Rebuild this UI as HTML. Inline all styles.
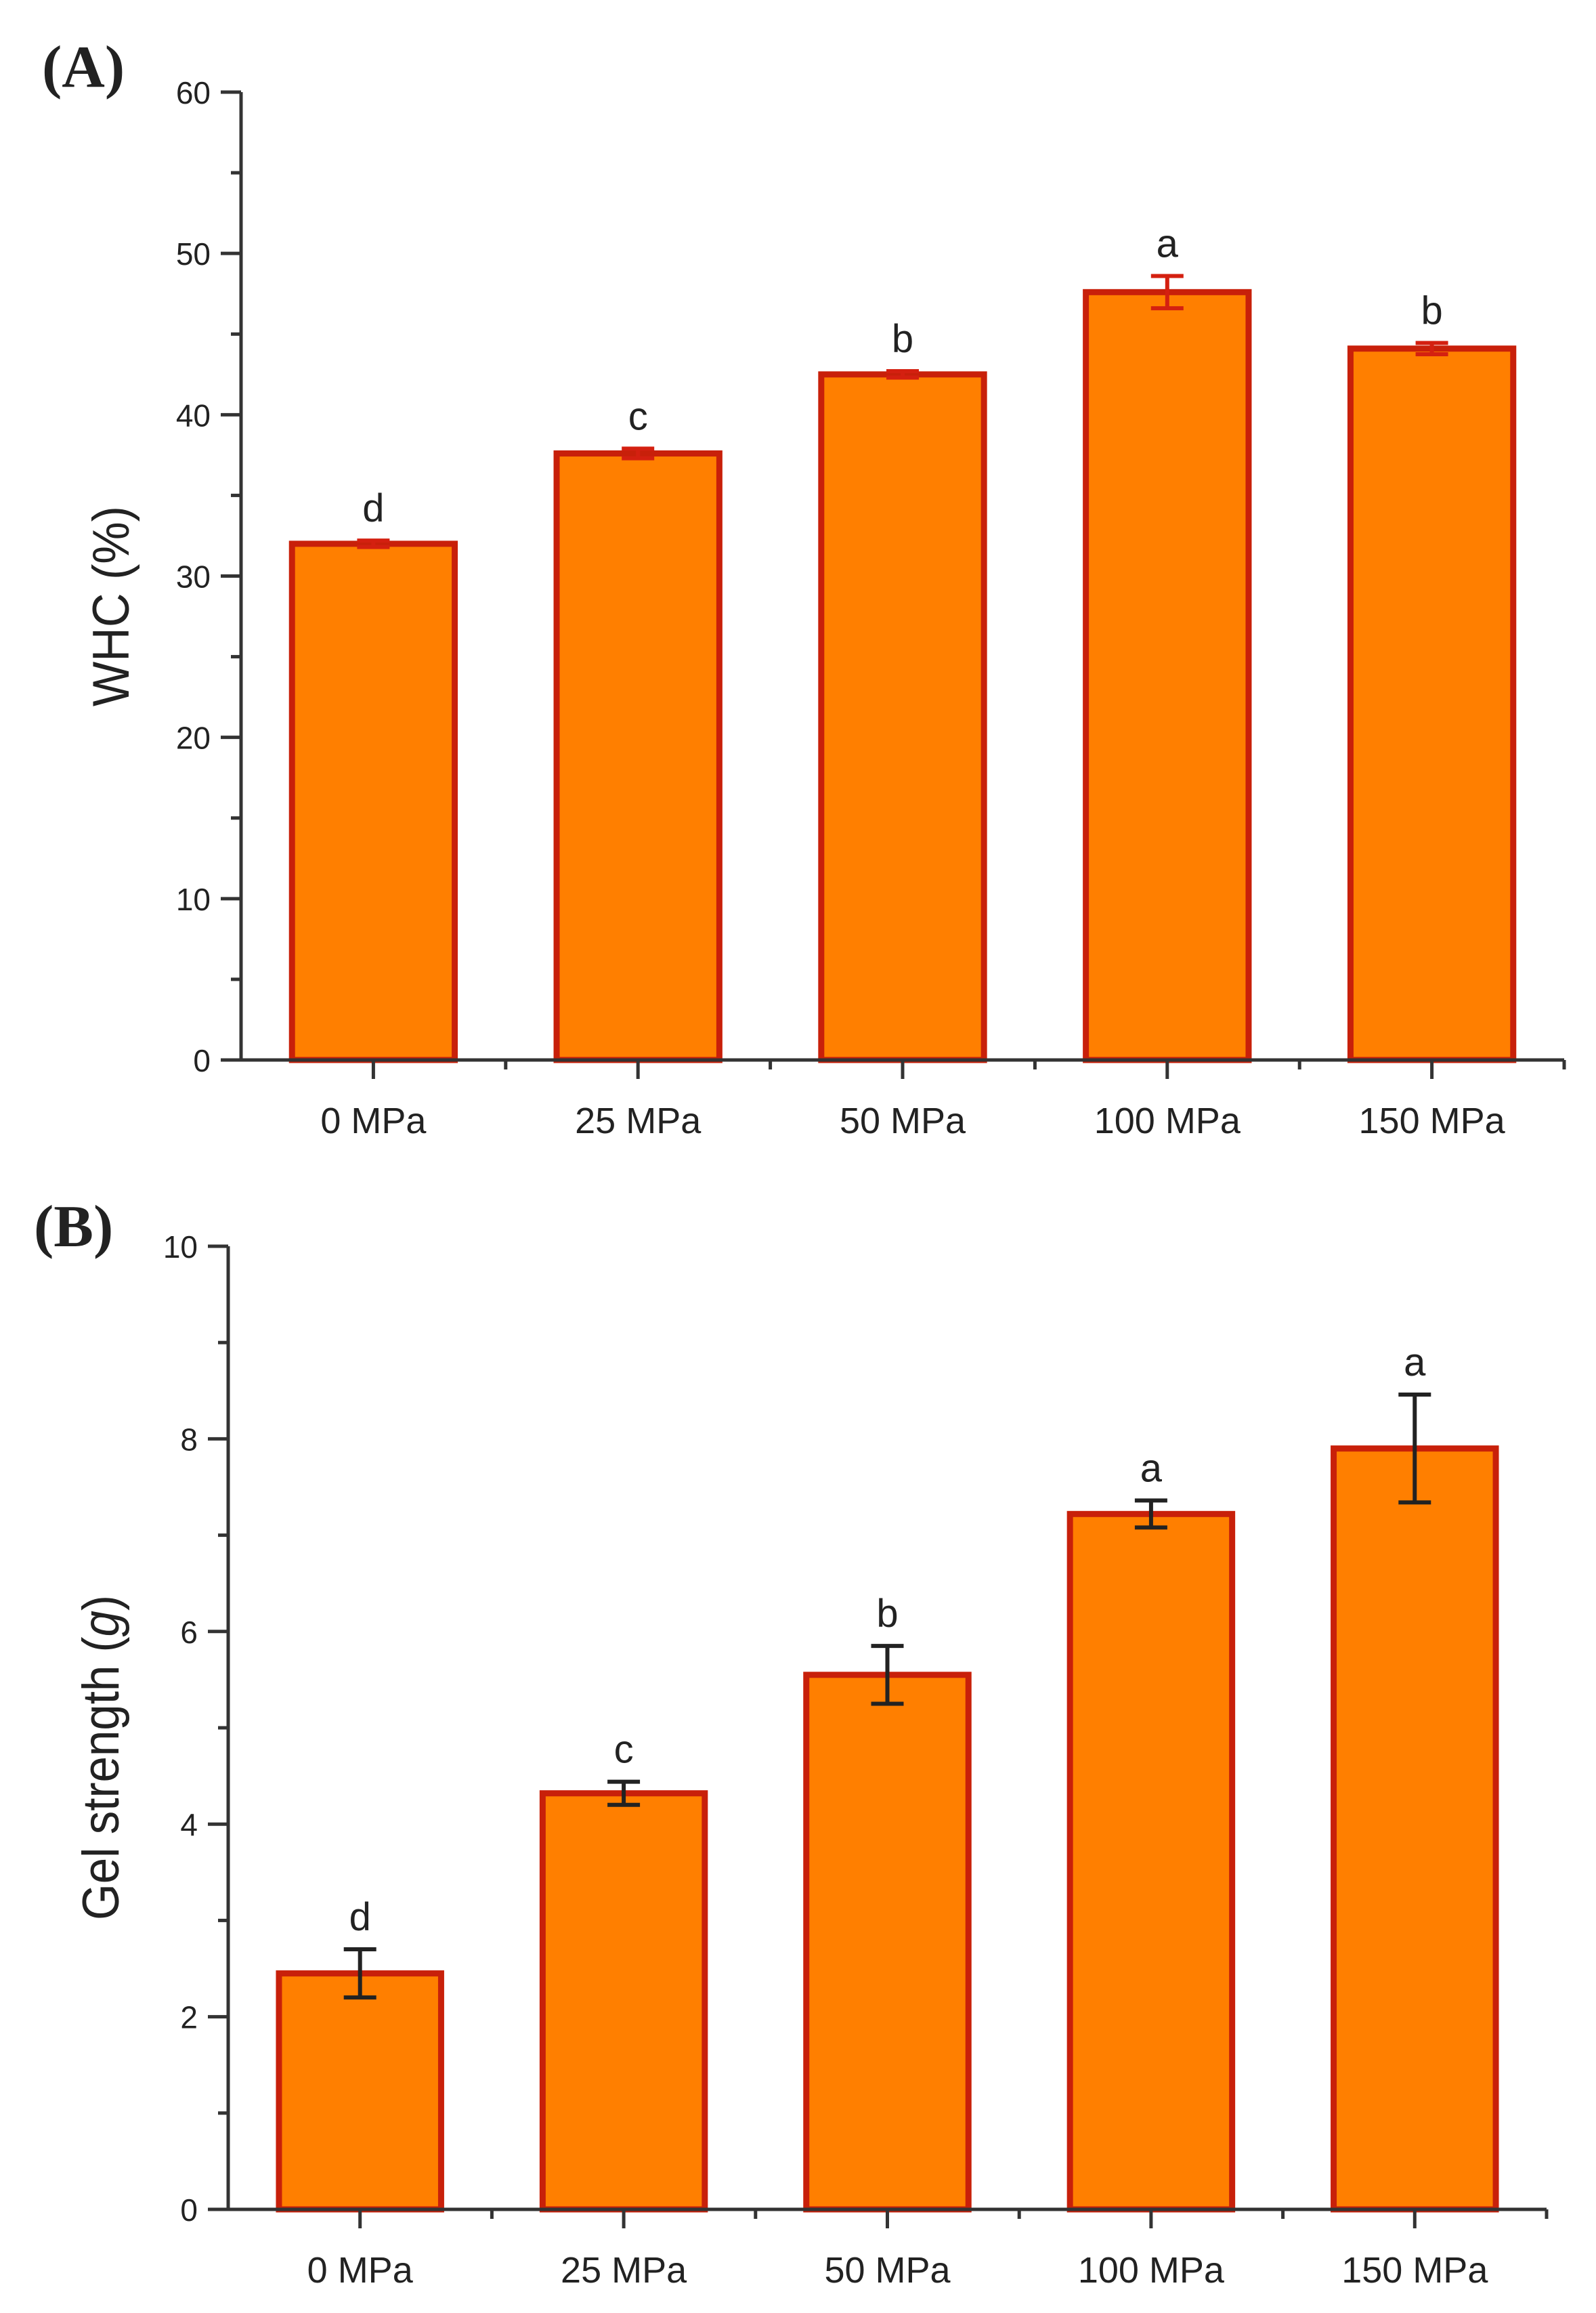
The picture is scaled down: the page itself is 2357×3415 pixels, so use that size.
<!DOCTYPE html>
<html><head><meta charset="utf-8"><style>
html,body{margin:0;padding:0;background:#fff;}
svg{display:block;}
text{font-family:"Liberation Sans",Arial,sans-serif;fill:#222;}
</style></head><body>
<svg id="fig" width="2357" height="3415" viewBox="0 0 2357 3415" xmlns="http://www.w3.org/2000/svg"></svg>
<script>
const categories = ["0 MPa","25 MPa","50 MPa","100 MPa","150 MPa"];
const whcValues = [32.0, 37.6, 42.5, 47.6, 44.1];
const whcErrors = [0.2, 0.3, 0.2, 1.0, 0.35];
const whcLetters = ["d","c","b","a","b"];
const whcTicks = [0,10,20,30,40,50,60];
const gelValues = [2.45, 4.32, 5.55, 7.22, 7.9];
const gelErrors = [0.25, 0.12, 0.3, 0.14, 0.56];
const gelLetters = ["d","c","b","a","a"];
const gelTicks = [0,2,4,6,8,10];

const NS = "http://www.w3.org/2000/svg";
const svg = document.getElementById("fig");
function mk(tag, attrs, parent){
  const e = document.createElementNS(NS, tag);
  for (const k in attrs) e.setAttribute(k, attrs[k]);
  (parent||svg).appendChild(e);
  return e;
}

function panel(cfg){
  const g = mk("g", {});
  
  
  const yScale = v => cfg.y0 - v / cfg.ymax * (cfg.y0 - cfg.yTop);
  const step = (cfg.x1 - cfg.x0) / categories.length;
  const xCenter = i => cfg.x0 + step * (i + 0.5);
  const barW = step * 0.615;

  cfg.values.forEach((v, i) => {
    const r = mk("rect", {x: xCenter(i) - barW/2, y: yScale(v), width: barW, height: cfg.y0 - yScale(v), fill: "#ff7f00", stroke: "#c8200a", "stroke-width": 9}, g);
    
    
    const e = cfg.errors[i];
    const eb = mk("path", {d: `M${xCenter(i)-24},${yScale(v+e)}H${xCenter(i)+24}M${xCenter(i)},${yScale(v+e)}V${yScale(v-e)}M${xCenter(i)-24},${yScale(v-e)}H${xCenter(i)+24}`, stroke: cfg.errColor, "stroke-width": 6, fill: "none"}, g);
    
    
    const t = mk("text", {x: xCenter(i), y: yScale(v + e) - 28, "font-size": 58, "text-anchor": "middle"}, g);
    t.textContent = cfg.letters[i];
    
    
  });

  const ax = mk("path", {d: `M${cfg.x0},${cfg.yTop}V${cfg.y0}H${cfg.x1}`, stroke: "#333", "stroke-width": 5, fill: "none"}, g);
  
  

  const tstep = cfg.ticks[1] - cfg.ticks[0];
  cfg.ticks.forEach((t, k) => {
    const y = yScale(t);
    mk("line", {x1: cfg.x0 - 30, x2: cfg.x0, y1: y, y2: y, stroke: "#333", "stroke-width": 5}, g);
    if (k < cfg.ticks.length - 1) {
      const ym = yScale(t + tstep/2);
      mk("line", {x1: cfg.x0 - 15, x2: cfg.x0, y1: ym, y2: ym, stroke: "#333", "stroke-width": 5}, g);
    }
    const lbl = mk("text", {x: cfg.x0 - 45, y: y + 17, "font-size": 46, "text-anchor": "end"}, g);
    lbl.textContent = t;
    
    
  });

  categories.forEach((c, i) => {
    mk("line", {x1: xCenter(i), x2: xCenter(i), y1: cfg.y0, y2: cfg.y0 + 28, stroke: "#333", "stroke-width": 5}, g);
    mk("line", {x1: cfg.x0 + step*(i+1), x2: cfg.x0 + step*(i+1), y1: cfg.y0, y2: cfg.y0 + 14, stroke: "#333", "stroke-width": 5}, g);
    const lbl = mk("text", {x: xCenter(i), y: cfg.y0 + 108, "font-size": 54, "text-anchor": "middle"}, g);
    lbl.textContent = c;
    
    
  });

  const tt = mk("text", {x: 0, y: 0, "font-size": 76, "text-anchor": "middle", textLength: cfg.titleLen, lengthAdjust: "spacingAndGlyphs", transform: `translate(${cfg.titleX},${cfg.titleY}) rotate(-90)`}, g);
  tt.innerHTML = cfg.title;
  
  

  const pl = mk("text", {x: cfg.labelX, y: cfg.labelY, "font-size": 88, "font-weight": "bold", style: "font-family:'Liberation Serif',serif"}, g);
  pl.textContent = cfg.label;
  
  
}

panel({name: "chart-whc", values: whcValues, errors: whcErrors, letters: whcLetters, ticks: whcTicks, ymax: 60,
  x0: 356, x1: 2310, y0: 1565, yTop: 136, errColor: "#d42010",
  title: "WHC (%)", titleX: 190, titleY: 895, titleLen: 296, label: "(A)", labelX: 62, labelY: 128});
panel({name: "chart-gel-strength", values: gelValues, errors: gelErrors, letters: gelLetters, ticks: gelTicks, ymax: 10,
  x0: 337, x1: 2284, y0: 3262, yTop: 1840, errColor: "#222",
  title: "Gel strength (<tspan font-style='italic'>g</tspan>)", titleX: 175, titleY: 2595, titleLen: 480, label: "(B)", labelX: 50, labelY: 1840});
</script>
</body></html>
